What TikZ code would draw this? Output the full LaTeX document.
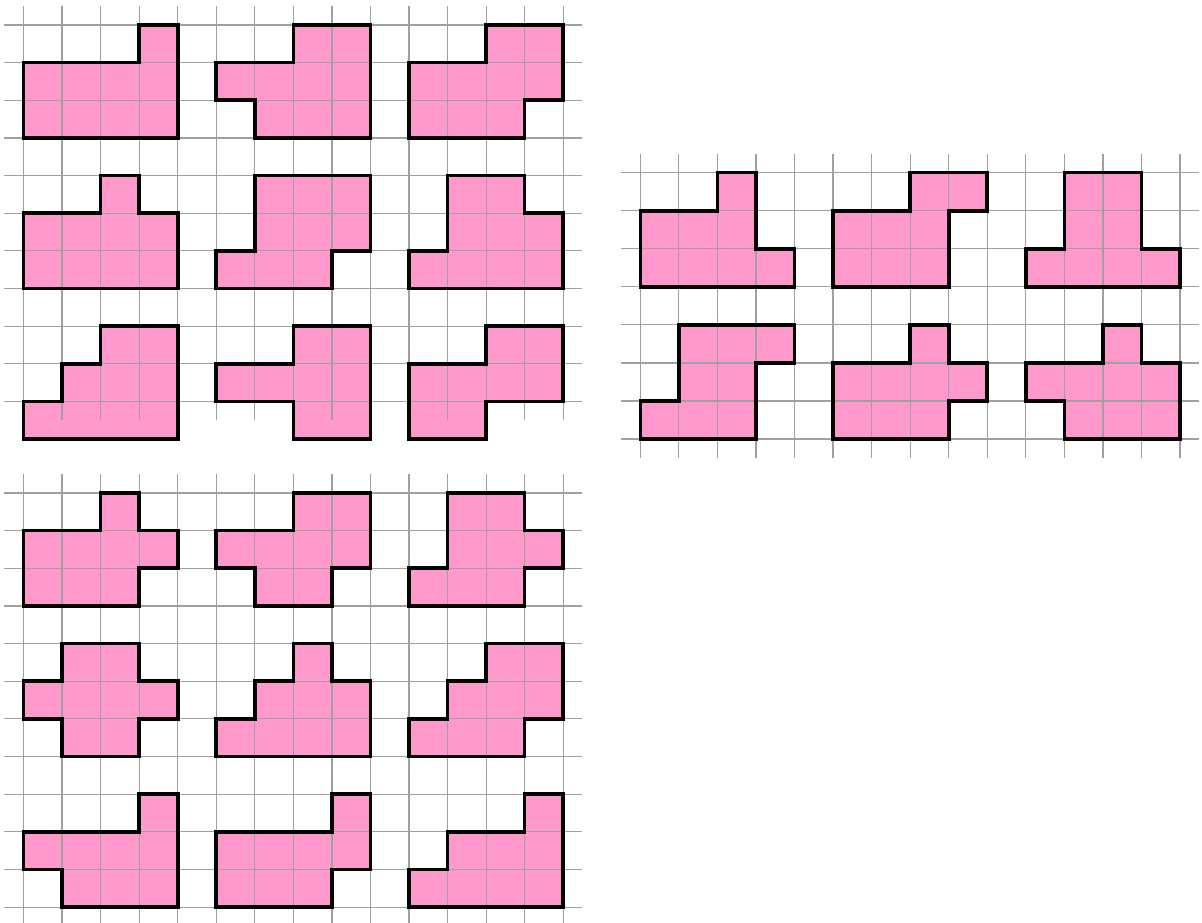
\documentclass[tikz,border=0pt]{standalone}
\usepackage{xcolor}
\usepackage{tikz}
\definecolor{tilepink}{RGB}{255,153,204}
\definecolor{gridgray}{RGB}{160,160,160}
\tikzset{
  gridline/.style={draw=gridgray, line width=0.6pt},
  tile/.style={fill=tilepink},
  tileedge/.style={draw=black, line width=1.8pt, line join=miter},
}
% all 24 pieces, each in its own 4x3 box (y runs downwards)
\newcommand{\alltiles}[1]{%
  % top-left block
  \path[#1] (0,3)--(4,3)--(4,0)--(3,0)--(3,1)--(0,1)--cycle;
  \path[#1,shift={(5,0)}] (1,3)--(4,3)--(4,0)--(2,0)--(2,1)--(0,1)--(0,2)--(1,2)--cycle;
  \path[#1,shift={(10,0)}] (0,3)--(3,3)--(3,2)--(4,2)--(4,0)--(2,0)--(2,1)--(0,1)--cycle;
  \path[#1,shift={(0,4)}] (0,3)--(4,3)--(4,1)--(3,1)--(3,0)--(2,0)--(2,1)--(0,1)--cycle;
  \path[#1,shift={(5,4)}] (0,3)--(3,3)--(3,2)--(4,2)--(4,0)--(1,0)--(1,2)--(0,2)--cycle;
  \path[#1,shift={(10,4)}] (0,3)--(4,3)--(4,1)--(3,1)--(3,0)--(1,0)--(1,2)--(0,2)--cycle;
  \path[#1,shift={(0,8)}] (0,3)--(4,3)--(4,0)--(2,0)--(2,1)--(1,1)--(1,2)--(0,2)--cycle;
  \path[#1,shift={(5,8)}] (2,3)--(4,3)--(4,0)--(2,0)--(2,1)--(0,1)--(0,2)--(2,2)--cycle;
  \path[#1,shift={(10,8)}] (0,3)--(2,3)--(2,2)--(4,2)--(4,0)--(2,0)--(2,1)--(0,1)--cycle;
  % right block
  \begin{scope}[shift={(16,3.923)}, yscale=1.0104]
    \path[#1] (0,3)--(4,3)--(4,2)--(3,2)--(3,0)--(2,0)--(2,1)--(0,1)--cycle;
    \path[#1,shift={(5,0)}] (0,3)--(3,3)--(3,1)--(4,1)--(4,0)--(2,0)--(2,1)--(0,1)--cycle;
    \path[#1,shift={(10,0)}] (0,3)--(4,3)--(4,2)--(3,2)--(3,0)--(1,0)--(1,2)--(0,2)--cycle;
    \path[#1,shift={(0,4)}] (0,3)--(3,3)--(3,1)--(4,1)--(4,0)--(1,0)--(1,2)--(0,2)--cycle;
    \path[#1,shift={(5,4)}] (0,3)--(3,3)--(3,2)--(4,2)--(4,1)--(3,1)--(3,0)--(2,0)--(2,1)--(0,1)--cycle;
    \path[#1,shift={(10,4)}] (1,3)--(4,3)--(4,1)--(3,1)--(3,0)--(2,0)--(2,1)--(0,1)--(0,2)--(1,2)--cycle;
  \end{scope}
  % bottom-left block
  \begin{scope}[shift={(0,12.43)}]
    \path[#1] (0,3)--(3,3)--(3,2)--(4,2)--(4,1)--(3,1)--(3,0)--(2,0)--(2,1)--(0,1)--cycle;
    \path[#1,shift={(5,0)}] (1,3)--(3,3)--(3,2)--(4,2)--(4,0)--(2,0)--(2,1)--(0,1)--(0,2)--(1,2)--cycle;
    \path[#1,shift={(10,0)}] (0,3)--(3,3)--(3,2)--(4,2)--(4,1)--(3,1)--(3,0)--(1,0)--(1,2)--(0,2)--cycle;
    \path[#1,shift={(0,4)}] (1,3)--(3,3)--(3,2)--(4,2)--(4,1)--(3,1)--(3,0)--(1,0)--(1,1)--(0,1)--(0,2)--(1,2)--cycle;
    \path[#1,shift={(5,4)}] (0,3)--(4,3)--(4,1)--(3,1)--(3,0)--(2,0)--(2,1)--(1,1)--(1,2)--(0,2)--cycle;
    \path[#1,shift={(10,4)}] (0,3)--(3,3)--(3,2)--(4,2)--(4,0)--(2,0)--(2,1)--(1,1)--(1,2)--(0,2)--cycle;
    \path[#1,shift={(0,8)}] (1,3)--(4,3)--(4,0)--(3,0)--(3,1)--(0,1)--(0,2)--(1,2)--cycle;
    \path[#1,shift={(5,8)}] (0,3)--(3,3)--(3,2)--(4,2)--(4,0)--(3,0)--(3,1)--(0,1)--cycle;
    \path[#1,shift={(10,8)}] (0,3)--(4,3)--(4,0)--(3,0)--(3,1)--(1,1)--(1,2)--(0,2)--cycle;
  \end{scope}
}

\begin{document}
\begin{tikzpicture}[x=19.275pt, y=-18.825pt]
  \useasboundingbox (-0.6096,-0.664) rectangle (30.571,23.851);
  \alltiles{tile}
  % grids: origin x / origin y / columns / rows / row scale
  \foreach \gx/\gy/\gw/\gh/\gs in {0/0/14/10/1, 16/3.923/14/7/1.0104, 0/12.43/14/11/1} {
    \begin{scope}[shift={(\gx,\gy)}, yscale=\gs]
      \foreach \i in {0,...,\gw} \draw[gridline] (\i,-0.5) -- (\i,\gh+0.5);
      \foreach \j in {0,...,\gh} \draw[gridline] (-0.5,\j) -- (\gw+0.5,\j);
    \end{scope}
  }
  \alltiles{tileedge}
\end{tikzpicture}
\end{document}
